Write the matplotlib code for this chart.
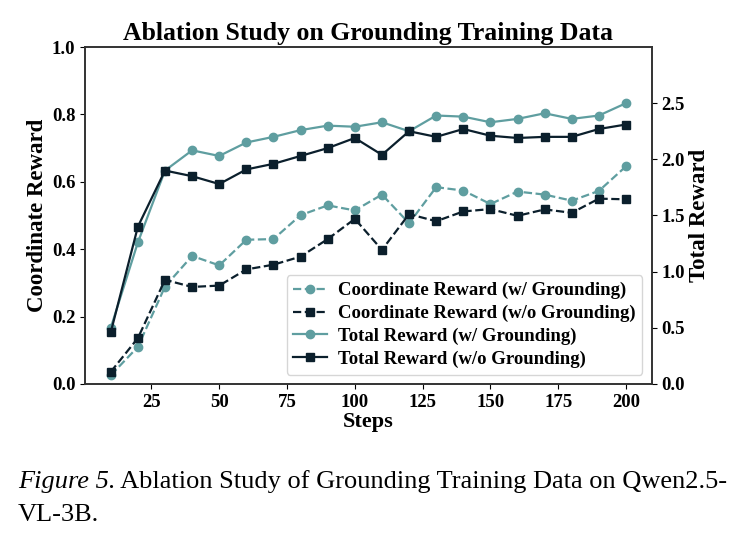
import numpy as np
from matplotlib import pyplot as plt

steps = list(range(10, 201, 10))

coord_w = [0.026, 0.110, 0.289, 0.380, 0.352, 0.428, 0.430, 0.501, 0.530, 0.515,
           0.562, 0.477, 0.584, 0.574, 0.534, 0.571, 0.562, 0.544, 0.573, 0.646]
coord_wo = [0.036, 0.136, 0.309, 0.288, 0.292, 0.340, 0.354, 0.378, 0.430, 0.490,
            0.398, 0.504, 0.483, 0.512, 0.519, 0.499, 0.518, 0.508, 0.550, 0.548]
total_w = [0.50, 1.26, 1.90, 2.08, 2.03, 2.15, 2.20, 2.26, 2.30, 2.29,
           2.33, 2.25, 2.39, 2.38, 2.33, 2.36, 2.41, 2.36, 2.39, 2.50]
total_wo = [0.46, 1.40, 1.90, 1.85, 1.78, 1.91, 1.96, 2.03, 2.10, 2.19,
            2.04, 2.25, 2.20, 2.27, 2.21, 2.19, 2.20, 2.20, 2.27, 2.31]

labels = ['Coordinate Reward (w/ Grounding)', 'Coordinate Reward (w/o Grounding)',
          'Total Reward (w/ Grounding)', 'Total Reward (w/o Grounding)']

teal = '#5f9ea0'
dark = '#0b1f2c'

def main():
    plt.rcParams['font.family'] = 'Liberation Serif'
    plt.rcParams['font.weight'] = 'bold'

    fig = plt.figure(figsize=(7.39, 5.39), dpi=100)
    ax = fig.add_axes([0.115, 0.2876, 0.767, 0.6252])
    ax2 = ax.twinx()

    l1, = ax.plot(steps, coord_w, '--o', color=teal, lw=1.6, ms=6)
    l2, = ax.plot(steps, coord_wo, '--s', color=dark, lw=1.6, ms=6)
    l3, = ax2.plot(steps, total_w, '-o', color=teal, lw=1.6, ms=6)
    l4, = ax2.plot(steps, total_wo, '-s', color=dark, lw=1.6, ms=6)

    ax.set_ylim(0, 1.0)
    ax2.set_ylim(0, 3.0)
    ax.set_yticks(np.arange(0, 1.01, 0.2))
    ax2.set_yticks(np.arange(0, 2.51, 0.5))
    ax.set_xticks([25, 50, 75, 100, 125, 150, 175, 200])

    for a in (ax, ax2):
        a.tick_params(labelsize=13.5)
        for s in a.spines.values():
            s.set_color('#333333')
            s.set_linewidth(1.2)

    ax.set_xlabel('Steps', fontsize=16, fontweight='bold', labelpad=1)
    ax.set_ylabel('Coordinate Reward', fontsize=16.5, fontweight='bold', labelpad=3)
    ax2.set_ylabel('Total Reward', fontsize=16.5, fontweight='bold', labelpad=3)
    ax.set_title('Ablation Study on Grounding Training Data', fontsize=18.5, fontweight='bold', pad=5)

    ax2.legend([l1, l2, l3, l4], labels, loc='lower right', fontsize=13.5,
               handlelength=1.8, borderpad=0.35, labelspacing=0.3, handletextpad=0.6)

    t1 = fig.text(0.024, 0.095, 'Figure 5.', fontsize=19, style='italic', fontweight='normal')
    ax.annotate(' Ablation Study of Grounding Training Data on Qwen2.5-', xy=(1, 0), xycoords=t1,
                fontsize=19, fontweight='normal', va='bottom', annotation_clip=False)
    fig.text(0.024, 0.033, 'VL-3B.', fontsize=19, fontweight='normal')

    plt.savefig('out.png', dpi=100)

if __name__ == "__main__":
    main()
